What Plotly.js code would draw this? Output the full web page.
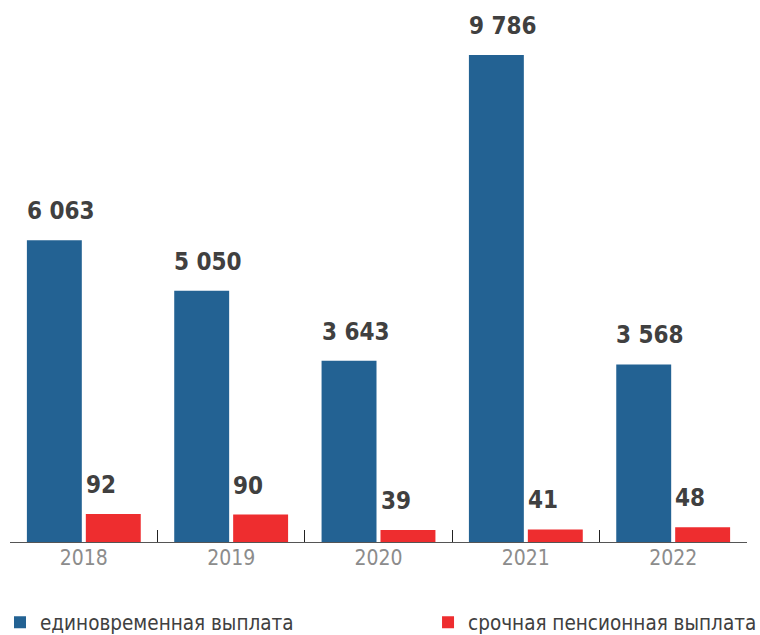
<!DOCTYPE html>
<html>
<head>
<meta charset="utf-8">
<script src="https://cdn.plot.ly/plotly-3.0.1.min.js"></script>
<style>html,body{margin:0;padding:0;background:#fff}#chart{width:760px;height:635px}</style>
</head>
<body>
<div id="chart"></div>
<script>
const years = ["2018", "2019", "2020", "2021", "2022"];
const lumpSum = [6063, 5050, 3643, 9786, 3568];
const urgentPension = [92, 90, 39, 41, 48];
const seriesNames = ["единовременная выплата", "срочная пенсионная выплата"];
const labelsLump = ["6 063", "5 050", "3 643", "9 786", "3 568"];
const labelsUrgent = ["92", "90", "39", "41", "48"];

const FONT = "'DejaVu Sans Condensed', 'DejaVu Sans', sans-serif";
const BLUE = "#236293";
const RED = "#ee2d2f";
const BAR_GAP = 0.2, GROUP_GAP = 0.068;
const slot = (1 - BAR_GAP) / 2;
const barW = slot * (1 - GROUP_GAP);

const traces = [
  {type: "bar", x: years, y: lumpSum, name: seriesNames[0], marker: {color: BLUE}, offsetgroup: "a", yaxis: "y", legend: "legend", hoverinfo: "skip"},
  {type: "bar", x: years, y: urgentPension, name: seriesNames[1], marker: {color: RED}, offsetgroup: "b", yaxis: "y2", legend: "legend2", hoverinfo: "skip"}
];

const annots = [];
years.forEach((_, i) => {
  annots.push({x: i - slot / 2 - barW / 2, y: lumpSum[i], xref: "x", yref: "y", text: labelsLump[i],
    xanchor: "left", yanchor: "bottom", xshift: -2, yshift: 13, showarrow: false,
    font: {family: FONT, size: 24, color: "#404040", weight: "bold"}});
  annots.push({x: i + slot / 2 - barW / 2, y: urgentPension[i], xref: "x", yref: "y2", text: labelsUrgent[i],
    xanchor: "left", yanchor: "bottom", xshift: -2, yshift: 13, showarrow: false,
    font: {family: FONT, size: 24, color: "#404040", weight: "bold"}});
});

const legendFont = {family: FONT, size: 20.5, color: "#404040"};
const layout = {
  width: 760, height: 635,
  margin: {l: 10, r: 13, t: 20, b: 93},
  paper_bgcolor: "#fff", plot_bgcolor: "#fff",
  barmode: "group", bargap: BAR_GAP, bargroupgap: GROUP_GAP,
  showlegend: true,
  legend: {orientation: "h", xref: "container", yref: "container", x: 0, y: 0.02, xanchor: "left", yanchor: "middle", font: legendFont},
  legend2: {orientation: "h", xref: "container", yref: "container", x: 0.5632, y: 0.02, xanchor: "left", yanchor: "middle", font: legendFont},
  xaxis: {type: "category", range: [-0.501, 4.501], tickson: "boundaries",
    showline: true, linecolor: "#555", linewidth: 1, ticks: "inside", ticklen: 12, tickcolor: "#222", tickwidth: 1.2,
    showgrid: false, zeroline: false, ticklabelstandoff: -3,
    tickfont: {family: FONT, size: 21, color: "#8c8c8c"}, fixedrange: true},
  yaxis: {range: [0, 10488], visible: false, fixedrange: true},
  yaxis2: {range: [0, 1711], overlaying: "y", visible: false, fixedrange: true},
  annotations: annots
};

Plotly.newPlot("chart", traces, layout, {staticPlot: true});
</script>
</body>
</html>
